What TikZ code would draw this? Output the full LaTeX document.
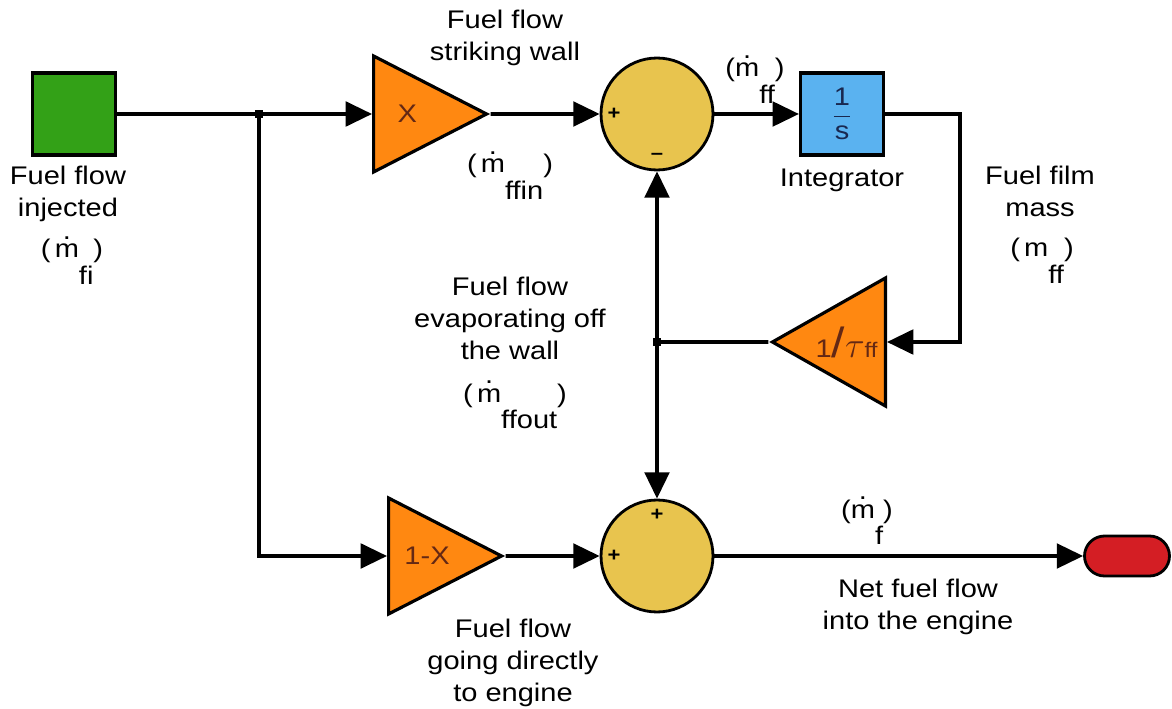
\documentclass[tikz,border=0pt]{standalone}
\usepackage{fontspec}
\setmainfont{Liberation Sans}[FakeStretch=1.14]
\usetikzlibrary{shapes.geometric,arrows.meta}

\definecolor{srcgreen}{RGB}{51,161,23}
\definecolor{gainorange}{RGB}{255,136,17}
\definecolor{sumyellow}{RGB}{232,196,78}
\definecolor{intblue}{RGB}{90,178,240}
\definecolor{sinkred}{RGB}{212,30,36}
\definecolor{gaintext}{RGB}{100,40,20}

% m with a dot on top
\newcommand\mdt{\ooalign{m\cr\hidewidth\raisebox{0.72em}{.}\hidewidth\cr}}

\begin{document}
\begin{tikzpicture}[x=0.02cm, y=-0.02cm, >={Triangle[length=15pt,width=14pt]},
                    font=\fontsize{14.5}{18.2}\selectfont]
  \tikzstyle{blk}=[draw, line width=1.8pt, minimum width=1.66cm,
                   minimum height=1.64cm, inner sep=0pt]
  \tikzstyle{gain}=[draw, line width=1.8pt, fill=gainorange, isosceles triangle,
                    isosceles triangle stretches, inner sep=0pt, text=gaintext,
                    minimum width=2.32cm, minimum height=2.26cm]
  \tikzstyle{sum}=[draw, line width=1.6pt, fill=sumyellow, circle,
                   minimum size=2.24cm, inner sep=0pt]
  \tikzstyle{jct}=[fill, rectangle, minimum size=0.17cm, inner sep=0pt]
  \tikzstyle{wire}=[line width=2pt]
  \tikzstyle{lbl}=[align=center]
  \tikzstyle{rate}=[anchor=base, inner sep=0pt]
  \tikzstyle{sgn}=[font=\bfseries\fontsize{11}{11}\selectfont, inner sep=0pt]
  \useasboundingbox (0,0) rectangle (1172,709);

  % ================= upper path: wall film =================
  \node[blk, fill=srcgreen] (src) at (74,114) {};
  \node[jct] (jin) at (259,114) {};
  \node[gain, anchor=west] (gx) at (372,114) {X};
  \node[sum] (s1) at (657,114) {};
  \node[sgn] (s1p) at (614,114) {+};
  \node[sgn] (s1m) at (657,156) {--};
  \node[blk, fill=intblue, text={rgb,255:red,25;green,40;blue,80}] (intg) at (842,114)
       {$\displaystyle\frac{\mbox{1}}{\mbox{s}}$};
  \coordinate (cr) at (960,342);
  \node[gain, shape border rotate=180, anchor=east, minimum width=2.56cm,
        minimum height=2.26cm] (gtau) at (887,342)
       {1{\fontsize{24}{24}\selectfont/}{\fontsize{22}{22}\selectfont$\tau$}{\fontsize{12}{12}\selectfont ff}};
  \node[jct] (jev) at (657,342) {};

  % ================= lower path: direct to engine =================
  \node[gain, anchor=west] (gmx) at (387,556) {1-X};
  \node[sum] (s2) at (657,556) {};
  \node[sgn] (s2t) at (657,515) {+};
  \node[sgn] (s2l) at (614,556) {+};
  \node[draw, line width=1.6pt, fill=sinkred, rounded corners=0.4cm,
        minimum width=1.7cm, minimum height=0.8cm] (snk) at (1127,556) {};

  % ================= wires =================
  \draw[wire] (src) -- (jin.center);
  \draw[wire,->] (jin.center) -- (gx.west);
  \draw[wire,->] (gx.east) -- (s1.west);
  \draw[wire,->] (s1) -- (intg);
  \draw[wire,->] (intg.east) -| (cr) -- (gtau.east);
  \draw[wire] (gtau.west) -- (jev.center);
  \draw[wire,->] (jev.center) -- (s1.south);
  \draw[wire,->] (jev.center) -- (s2.north);
  \draw[wire,->] (jin.center) |- (gmx.west);
  \draw[wire,->] (gmx.east) -- (s2.west);
  \draw[wire,->] (s2) -- (snk);

  % ================= labels =================
  \node[lbl] (linj) at (68,194) {Fuel flow\\injected};
  \node[rate] (rfi) at (72,258) {(\,\mdt\raisebox{-1.05em}{fi})};
  \node[lbl] (lstr) at (505,38) {Fuel flow\\striking wall};
  \node[rate] (rffin) at (510,173) {(\,\mdt\raisebox{-1.05em}{ffin})};
  \node[rate] (rff) at (755,77) {(\mdt\raisebox{-1.05em}{ff})};
  \node (lint) at (842,180) {Integrator};
  \node[lbl] (lfilm) at (1040,191) {Fuel film\\mass};
  \node[rate] (rmff) at (1042,257) {(\,m\raisebox{-1.05em}{ff})};
  \node[lbl] (levap) at (510,318) {Fuel flow\\evaporating off\\the wall};
  \node[rate] (rout) at (515,402) {(\,\mdt\raisebox{-1.05em}{ffout})};
  \node[rate] (rf) at (867,518) {(\mdt\raisebox{-1.05em}{f})};
  \node[lbl] (lnet) at (918,607) {Net fuel flow\\into the engine};
  \node[lbl] (ldir) at (513,663) {Fuel flow\\going directly\\to engine};
\end{tikzpicture}
\end{document}
